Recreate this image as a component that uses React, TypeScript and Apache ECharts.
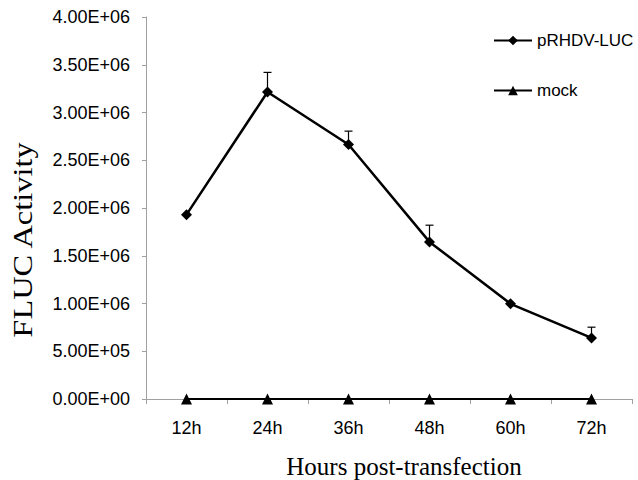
import React, { useEffect, useRef } from "react";
import * as echarts from "echarts";

const categories = ["12h", "24h", "36h", "48h", "60h", "72h"];
const luc = [1930000, 3215000, 2665000, 1645000, 997000, 640000];
const lucErr = [0, 205000, 140000, 175000, 0, 112000];
const mock = [0, 0, 0, 0, 0, 0];
const yTitle = "FLUC Activity";
const xTitle = "Hours post-transfection";

function fmt(v: number): string {
  if (v === 0) return "0.00E+00";
  const e = Math.floor(Math.log10(Math.abs(v)) + 1e-9);
  const m = v / Math.pow(10, e);
  const es = (e < 0 ? "-" : "+") + String(Math.abs(e)).padStart(2, "0");
  return m.toFixed(2) + "E" + es;
}

export default function App() {
  const ref = useRef<HTMLDivElement>(null);
  useEffect(() => {
    const chart = echarts.init(ref.current!, null, { renderer: "svg" });
    chart.setOption({
      animation: false,
      backgroundColor: "#ffffff",
      grid: { left: 146, right: 6, top: 17, bottom: 81, containLabel: false },
      legend: {
        orient: "vertical",
        left: 488,
        top: 27,
        itemGap: 33,
        itemWidth: 38,
        itemHeight: 12,
        textStyle: { fontFamily: "Liberation Sans, Arial", fontSize: 17, color: "#000" },
        data: ["pRHDV-LUC", "mock"],
      },
      graphic: [
        {
          type: "text",
          x: 22,
          y: 240,
          rotation: Math.PI / 2,
          scaleX: 1.2,
          style: {
            text: yTitle,
            fontFamily: "Liberation Serif, Times New Roman",
            fontSize: 27,
            fill: "#000",
            align: "center",
            verticalAlign: "middle",
          },
        },
        {
          type: "text",
          x: 404,
          y: 466,
          style: {
            text: xTitle,
            fontFamily: "Liberation Serif, Times New Roman",
            fontSize: 25,
            fill: "#000",
            align: "center",
            verticalAlign: "middle",
          },
        },
      ],
      xAxis: {
        type: "category",
        data: categories,
        boundaryGap: true,
        axisLine: { lineStyle: { color: "#a0a0a0", width: 1 } },
        axisTick: { show: true, alignWithLabel: false, length: 5, lineStyle: { color: "#a0a0a0" } },
        axisLabel: { fontFamily: "Liberation Sans, Arial", fontSize: 18, color: "#000", margin: 20 },
        splitLine: { show: false },
      },
      yAxis: {
        type: "value",
        min: 0,
        max: 4000000,
        interval: 500000,
        axisLine: { show: true, lineStyle: { color: "#a0a0a0", width: 1 } },
        axisTick: { show: true, length: 4, lineStyle: { color: "#a0a0a0" } },
        axisLabel: {
          fontFamily: "Liberation Sans, Arial",
          fontSize: 18,
          color: "#000",
          margin: 16,
          formatter: (v: number) => fmt(v),
        },
        splitLine: { show: false },
      },
      series: [
        {
          name: "pRHDV-LUC",
          type: "line",
          data: luc,
          symbol: "diamond",
          symbolSize: 11,
          lineStyle: { color: "#000", width: 2.5 },
          itemStyle: { color: "#000" },
          z: 3,
        },
        {
          name: "mock",
          type: "line",
          data: mock,
          symbol: "triangle",
          symbolSize: 11,
          lineStyle: { color: "#000", width: 2 },
          itemStyle: { color: "#000" },
          z: 3,
        },
        {
          name: "err",
          type: "custom",
          data: categories.map((c, i) => [i, luc[i], luc[i] + lucErr[i]]),
          renderItem: (params: any, api: any) => {
            const i = api.value(0);
            const lo = api.coord([i, api.value(1)]);
            const hi = api.coord([i, api.value(2)]);
            if (Math.abs(lo[1] - hi[1]) < 0.5) return { type: "group", children: [] };
            return {
              type: "group",
              children: [
                { type: "line", shape: { x1: lo[0], y1: lo[1], x2: hi[0], y2: hi[1] }, style: { stroke: "#000", lineWidth: 1.2 } },
                { type: "line", shape: { x1: hi[0] - 4, y1: hi[1], x2: hi[0] + 4, y2: hi[1] }, style: { stroke: "#000", lineWidth: 1.2 } },
              ],
            };
          },
          z: 2,
        },
      ],
    });
    return () => chart.dispose();
  }, []);
  return <div ref={ref} style={{ position: "fixed", left: 0, top: 0, width: 638, height: 480 }} />;
}
